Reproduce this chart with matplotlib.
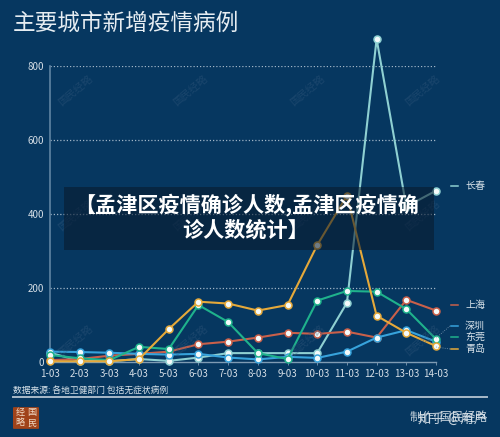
#!/usr/bin/env python3
"""Main cities' new epidemic cases, dark poster style line chart."""

import matplotlib
matplotlib.use("Agg")
import matplotlib.pyplot as plt
from matplotlib.patches import FancyBboxPatch, Rectangle

plt.rcParams["font.family"] = ["Noto Sans CJK SC", "DejaVu Sans"]

WIDTH, HEIGHT = 500, 437
BG = "#063760"

dates = ["1-03", "2-03", "3-03", "4-03", "5-03", "6-03", "7-03",
         "8-03", "9-03", "10-03", "11-03", "12-03", "13-03", "14-03"]
y_ticks = [0, 200, 400, 600, 800]

changchun = [25, 3, 2, 8, 3, 12, 24, 24, 24, 24, 160, 873, 420, 463]
shanghai = [5, 8, 17, 22, 28, 48, 55, 66, 79, 76, 82, 66, 168, 139]
shenzhen = [28, 27, 25, 22, 20, 22, 12, 7, 14, 11, 28, 66, 86, 55]
dongguan = [19, 10, 5, 41, 35, 154, 108, 24, 8, 166, 192, 190, 143, 62]
qingdao = [2, 2, 2, 8, 89, 163, 158, 139, 154, 316, 450, 125, 79, 43]

series = [
    ("长春", changchun, "#8fd0d2", 186),
    ("上海", shanghai, "#c9604a", 305),
    ("深圳", shenzhen, "#37a3dc", 326),
    ("东莞", dongguan, "#1fb28c", 337),
    ("青岛", qingdao, "#e5a93a", 349),
]

watermark_x = [75, 190, 307, 422]
watermark_y = [90, 215, 340]


def fx(px):
    return px / WIDTH


def fy(py):
    return 1 - py / HEIGHT


def main():
    fig = plt.figure(figsize=(WIDTH / 100, HEIGHT / 100), dpi=100, facecolor=BG)
    ax = fig.add_axes([fx(50), fy(362), (436 - 50) / WIDTH, (362 - 66) / HEIGHT])
    ax.set_facecolor(BG)
    ax.set_xlim(0, len(dates) - 1)
    ax.set_ylim(0, 800)

    for y in y_ticks[1:]:
        ax.axhline(y, color="#9fb4c6", lw=0.9, ls=(0, (1, 1.6)), zorder=1)

    for spine in ("top", "right"):
        ax.spines[spine].set_visible(False)
    ax.spines["left"].set_color("#5f84a3")
    ax.spines["left"].set_linewidth(1.2)
    ax.spines["bottom"].set_color("#7f9bb3")
    ax.spines["bottom"].set_linewidth(1.0)

    ax.set_xticks(range(len(dates)))
    ax.set_xticklabels(dates)
    ax.set_yticks(y_ticks)
    ax.tick_params(axis="x", length=2, width=0.6, color="#7f9bb3", labelcolor="#d5dee6",
                   labelsize=7, pad=3)
    ax.tick_params(axis="y", length=0, labelcolor="#d5dee6", labelsize=7, pad=4)

    for name, values, color, label_y in series:
        ax.plot(range(len(dates)), values, color=color, lw=1.5, marker="o", ms=5.0,
                mfc="#f4fafa", mec=color, mew=1.1, clip_on=False, zorder=3)

    for px in watermark_x:
        for py in watermark_y:
            fig.text(fx(px), fy(py), "国民经略", color="#33587c", fontsize=7.5, rotation=40,
                     ha="center", va="center", alpha=0.45, zorder=4)

    # series labels on the right, two of them with dotted leaders
    for name, values, color, label_y in series:
        fig.add_artist(plt.Line2D([fx(451), fx(458)], [fy(label_y)] * 2, color=color, lw=1.1))
        fig.text(fx(465), fy(label_y), name, color="#d9e3ea", fontsize=7.2, va="center")
    fig.add_artist(plt.Line2D([fx(436), fx(450)], [fy(338), fy(326)], color="#7f9bb3",
                              lw=0.6, ls=":"))
    fig.add_artist(plt.Line2D([fx(436), fx(450)], [fy(347), fy(349)], color="#7f9bb3",
                              lw=0.6, ls=":"))

    fig.text(fx(13), fy(23), "主要城市新增疫情病例", color="#e6edf2", fontsize=16.3,
             va="center", ha="left")
    fig.text(fx(13), fy(390), "数据来源: 各地卫健部门 包括无症状病例", color="#d9e3ea",
             fontsize=6.3, fontweight="medium", va="center", ha="left")
    fig.add_artist(plt.Line2D([fx(13), fx(487)], [fy(397)] * 2, color="#a9bac9", lw=1.4))

    # logo
    fig.add_artist(FancyBboxPatch((fx(14), fy(428)), 24 / WIDTH, 20 / HEIGHT,
                                  boxstyle="round,pad=0.002", transform=fig.transFigure,
                                  fc="#a0431a", ec="none"))
    for px, py, ch in [(20, 412, "经"), (32, 412, "国"), (20, 423, "略"), (32, 423, "民")]:
        fig.text(fx(px), fy(py), ch, color="#f0d9c4", fontsize=6.6, ha="center", va="center")

    # overlapping credit and site mark at the bottom right
    fig.text(fx(487), fy(417), "制作: 国民经略", color="#c3d0da", fontsize=8.6,
             ha="right", va="center")
    fig.text(fx(487), fy(419), "知乎 @用户", color="#e6edf2", fontsize=9.6,
             ha="right", va="center", alpha=0.85)

    # article banner laid over the chart
    fig.add_artist(Rectangle((fx(64), fy(250)), (434 - 64) / WIDTH, (250 - 187) / HEIGHT,
                             transform=fig.transFigure, fc="#08192c", ec="none",
                             alpha=0.56, zorder=10))
    fig.text(fx(247), fy(205), "【孟津区疫情确诊人数,孟津区疫情确", color="white",
             fontsize=15.2, fontweight="bold", ha="center", va="center", zorder=11)
    fig.text(fx(246), fy(230), "诊人数统计】", color="white",
             fontsize=15.2, fontweight="bold", ha="center", va="center", zorder=11)

    fig.savefig("out.png", dpi=100, facecolor=BG)
    plt.close(fig)


if __name__ == "__main__":
    main()
